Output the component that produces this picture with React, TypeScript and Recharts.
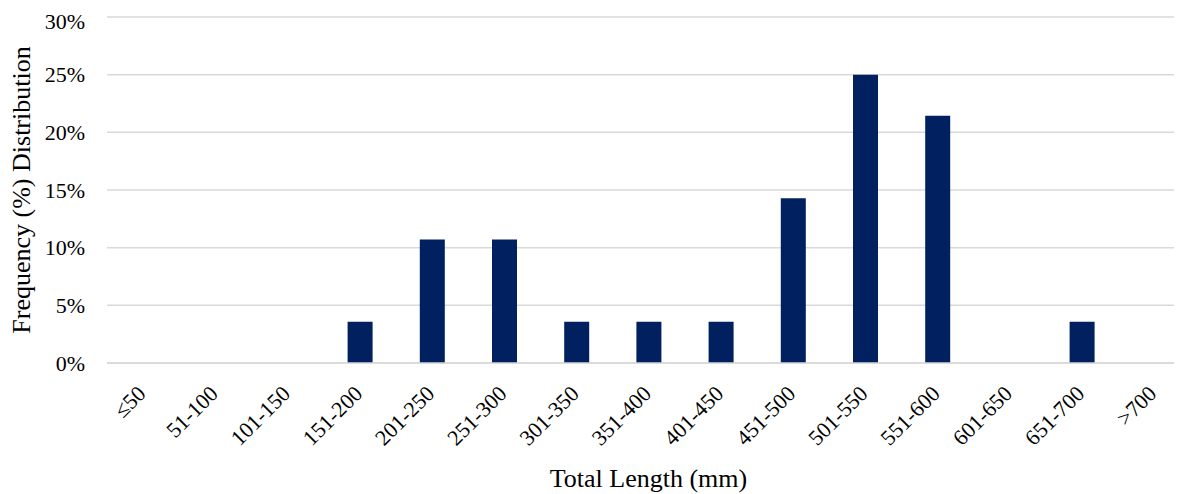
import { BarChart, Bar, XAxis, YAxis, CartesianGrid, Label } from 'recharts';

const lengthClasses = [
  '≤50', '51-100', '101-150', '151-200', '201-250', '251-300', '301-350',
  '351-400', '401-450', '451-500', '501-550', '551-600', '601-650', '651-700', '>700',
];

// share of fish in each length class, in percent
const frequency = [0, 0, 0, 3.57, 10.71, 10.71, 3.57, 3.57, 3.57, 14.29, 25, 21.43, 0, 3.57, 0];

const percentTicks = [0, 5, 10, 15, 20, 25, 30];

const data = lengthClasses.map((cls, i) => ({ cls, freq: frequency[i] }));

const FONT = '"Liberation Serif", "Times New Roman", serif';

function AngledTick(props: any) {
  const { x, y, payload } = props;
  return (
    <g transform={`translate(${x + 4},${y + 24}) rotate(-45)`}>
      <text textAnchor="end" fontFamily={FONT} fontSize={22} fill="#000">
        {payload.value}
      </text>
    </g>
  );
}

function YTitle(props: any) {
  const { viewBox } = props;
  const cx = 13;
  const cy = viewBox.y + viewBox.height / 2;
  return (
    <text
      x={cx}
      y={cy}
      transform={`rotate(-90, ${cx}, ${cy})`}
      textAnchor="middle"
      dominantBaseline="central"
      fontFamily={FONT}
      fontSize={26}
      fill="#000"
    >
      Frequency (%) Distribution
    </text>
  );
}

export default function App() {
  return (
    <div style={{ width: 1174, height: 486, overflow: 'hidden' }}>
      <BarChart
        width={1182}
        height={486}
        data={data}
        margin={{ top: 9, right: 0, bottom: 0, left: 39 }}
      >
        <CartesianGrid vertical={false} stroke="#d9d9d9" strokeWidth={1.5} />
        <XAxis
          dataKey="cls"
          interval={0}
          height={131}
          axisLine={{ stroke: '#d9d9d9', strokeWidth: 1.5 }}
          tickLine={false}
          tick={<AngledTick />}
        >
          <Label
            value="Total Length (mm)"
            position="insideBottom"
            offset={7}
            style={{ fontFamily: FONT, fontSize: 26, fill: '#000' }}
          />
        </XAxis>
        <YAxis
          width={60}
          domain={[0, 30]}
          ticks={percentTicks}
          tickFormatter={(v: number) => `${v}%`}
          axisLine={false}
          tickLine={false}
          tickSize={0}
          tickMargin={22}
          tick={{ fontFamily: FONT, fontSize: 22, fill: '#000' }}
        >
          <Label content={<YTitle />} />
        </YAxis>
        <Bar dataKey="freq" fill="#002060" barSize={25} isAnimationActive={false} />
      </BarChart>
    </div>
  );
}
